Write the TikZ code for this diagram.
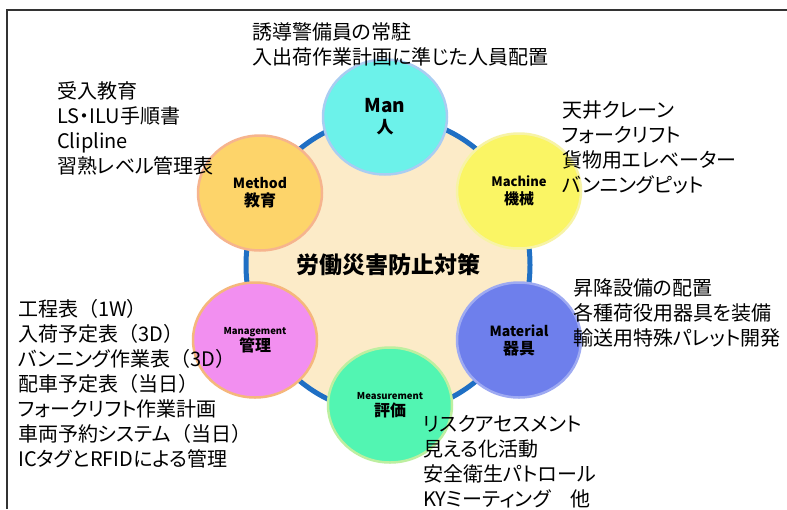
\documentclass[tikz,border=0pt]{standalone}
\usepackage{fontspec}
\setmainfont{Noto Sans CJK JP}[RawFeature=+palt]
\newfontfamily\jpfw{Noto Sans CJK JP}
\newcommand{\lpar}{{\jpfw （}}
\newcommand{\rpar}{{\jpfw ）}}
\usetikzlibrary{shapes.geometric}
\definecolor{beige}{HTML}{FCEBC8}
\definecolor{ringblue}{HTML}{1F6FC4}
\definecolor{frameg}{HTML}{333333}
\definecolor{manc}{HTML}{6CF2EA}
\definecolor{manr}{HTML}{A9CDF2}
\definecolor{machc}{HTML}{FAF564}
\definecolor{machr}{HTML}{F7F3A6}
\definecolor{matc}{HTML}{6E7FEC}
\definecolor{matr}{HTML}{9EAAF2}
\definecolor{measc}{HTML}{52F5B2}
\definecolor{measr}{HTML}{BDEFA0}
\definecolor{mgmtc}{HTML}{F28FF0}
\definecolor{mgmtr}{HTML}{F5B77C}
\definecolor{methc}{HTML}{FDD46A}
\definecolor{methr}{HTML}{F6B48E}
\tikzset{
  bubble/.style={ellipse, minimum width=124pt, minimum height=115pt, inner sep=0pt,
     line width=2.5pt, align=center, font=\bfseries\fontsize{12}{18}\selectfont, text=black},
  note/.style={anchor=west, align=left, inner sep=0pt, text=black,
     font=\fontsize{20}{25}\selectfont},
  ring/.style={draw=ringblue, line width=5pt},
  framel/.style={draw=frameg, line width=1.5pt}
}
\begin{document}
\begin{tikzpicture}[x=1pt,y=-1pt]
\useasboundingbox (0,0) rectangle (787,509);
\fill[white] (0,0) rectangle (787,509);
\coordinate (fa) at (7,509);
\coordinate (fb) at (7,10);
\coordinate (fc) at (787,10);
\draw[framel] (fa) -- (fb) -- (fc);
\coordinate (c) at (388,265);
\fill[beige] (c) ellipse [x radius=142, y radius=148];
\draw[ring] (c) ellipse [x radius=142, y radius=148];
\node[font=\bfseries\fontsize{23}{25}\selectfont] (title) at (c) {労働災害防止対策};
\node[bubble, fill=manc, draw=manr, font=\bfseries\fontsize{12}{21}\selectfont] (man) at (385,117)
  {{\fontsize{19}{21}\selectfont Man}\\{\fontsize{17}{19}\selectfont 人}};
\node[bubble, fill=machc, draw=machr] (mach) at (519,191)
  {{\fontsize{13}{15}\selectfont Machine}\\{\fontsize{15}{17}\selectfont 機械}};
\node[bubble, fill=matc, draw=matr] (mat) at (519,340)
  {{\fontsize{14}{16}\selectfont Material}\\{\fontsize{16}{18}\selectfont 器具}};
\node[bubble, fill=measc, draw=measr, font=\bfseries\fontsize{12}{17}\selectfont] (meas) at (390,405)
  {{\fontsize{9.5}{11}\selectfont Measurement}\\{\fontsize{16}{18}\selectfont 評価}};
\node[bubble, fill=mgmtc, draw=mgmtr, font=\bfseries\fontsize{12}{17}\selectfont] (mgmt) at (255,340)
  {{\fontsize{9.5}{11}\selectfont Management}\\{\fontsize{16}{18}\selectfont 管理}};
\node[bubble, fill=methc, draw=methr] (meth) at (260,193)
  {{\fontsize{14}{16}\selectfont Method}\\{\fontsize{16}{18}\selectfont 教育}};
\node[note] (tman) at (252,44) {誘導警備員の常駐\\入出荷作業計画に準じた人員配置};
\node[note] (tmeth) at (57,128) {受入教育\\LS・ILU手順書\\Clipline\\習熟レベル管理表};
\node[note] (tmach) at (562,147.5) {天井クレーン\\フォークリフト\\貨物用エレベーター\\バンニングピット};
\node[note] (tmat) at (573,313) {昇降設備の配置\\各種荷役用器具を装備\\輸送用特殊パレット開発};
\node[note] (tmeas) at (423,462) {リスクアセスメント\\見える化活動\\安全衛生パトロール\\KYミーティング　他};
\node[note] (tmgmt) at (18,384) {工程表\lpar 1W\rpar\\入荷予定表\lpar 3D\rpar\\バンニング作業表\lpar 3D\rpar\\配車予定表\lpar 当日\rpar\\フォークリフト作業計画\\車両予約システム\lpar 当日\rpar\\ICタグとRFIDによる管理};
\end{tikzpicture}
\end{document}
